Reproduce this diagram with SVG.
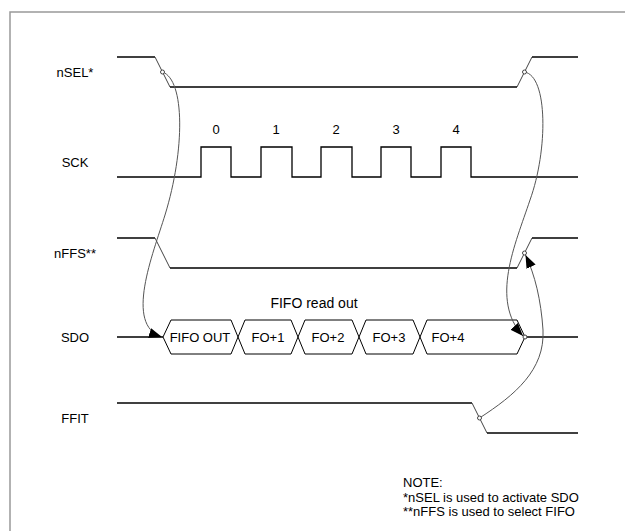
<svg xmlns="http://www.w3.org/2000/svg" width="625" height="531" viewBox="0 0 625 531">
<style>
text{font-family:"Liberation Sans",Arial,sans-serif;font-size:13px;fill:#000}
.lbl{text-anchor:middle}
.big{font-size:14px}
.sig{fill:none;stroke:#000;stroke-width:1.3}
.edge{fill:none;stroke:#444;stroke-width:1}
.bus{fill:none;stroke:#000;stroke-width:1}
.conn{fill:none;stroke:#555;stroke-width:1}
.dot{fill:#fff;stroke:#444;stroke-width:1}
</style>
<defs>
<marker id="ah" viewBox="0 0 13 10" refX="13" refY="5" markerWidth="13" markerHeight="10" markerUnits="userSpaceOnUse" orient="auto">
<path d="M0,0 L13,5 L0,10 Z" fill="#000"/>
</marker>
</defs>
<rect width="625" height="531" fill="#fff"/>
<g id="frame"><path d="M10,531 V12 H625" fill="none" stroke="#999" stroke-width="1.5"/></g>

<g id="nSEL">
<text class="lbl" x="75" y="77">nSEL*</text>
<path class="sig" d="M117,57 H155"/>
<path class="edge" d="M155,57 L170,87 M517,87 L532,57"/>
<path class="sig" d="M170,87 H517 M532,57 H578"/>
</g>

<g id="SCK">
<text class="lbl" x="75" y="167">SCK</text>
<path class="sig" d="M117,177 H201 V147 H231 V177 H261 V147 H292 V177 H321 V147 H352 V177 H381 V147 H411 V177 H441 V147 H471 V177 H578"/>
<text class="lbl" x="216" y="134">0</text>
<text class="lbl" x="276" y="134">1</text>
<text class="lbl" x="336" y="134">2</text>
<text class="lbl" x="396" y="134">3</text>
<text class="lbl" x="456" y="134">4</text>
</g>

<g id="nFFS">
<text class="lbl" x="75" y="258">nFFS**</text>
<path class="sig" d="M117,238 H155"/>
<path class="edge" d="M155,238 L170,268 M517,268 L532,238"/>
<path class="sig" d="M170,268 H517 M532,238 H578"/>
</g>

<g id="SDO">
<text class="lbl" x="75" y="342">SDO</text>
<path class="sig" d="M117,337 H163 M525,337 H578"/>
<path class="bus" d="M163,337 L171,320 H231 L245,354 H291 L305,320 H352 L366,354 H413 L427,320 H517 L525,337 L517,354 H427 L413,320 H366 L352,354 H305 L291,320 H245 L231,354 H171 Z"/>
<text class="lbl big" x="314" y="308">FIFO read out</text>
<text class="lbl" x="200" y="342">FIFO OUT</text>
<text class="lbl" x="268" y="342">FO+1</text>
<text class="lbl" x="328" y="342">FO+2</text>
<text class="lbl" x="389" y="342">FO+3</text>
<text class="lbl" x="448" y="342">FO+4</text>
</g>

<g id="FFIT">
<text class="lbl" x="75" y="423">FFIT</text>
<path class="sig" d="M117,403 H472"/>
<path class="edge" d="M472,403 L487,433"/>
<path class="sig" d="M487,433 H578"/>
</g>

<g id="note">
<text x="403" y="487">NOTE:</text>
<text x="403" y="502">*nSEL is used to activate SDO</text>
<text x="403" y="516">**nFFS is used to select FIFO</text>
</g>

<g id="connectors">
<path class="conn" marker-end="url(#ah)" d="M162.5,72 C185,80 185,150 165,215 C153,254 124,325 162,337"/>
<path class="conn" marker-end="url(#ah)" d="M524.5,72 C548,76 548,150 530,200 C515,245 490,300 523,336"/>
<path class="conn" marker-end="url(#ah)" d="M479.5,418 C515,395 545,370 543,330 C541,300 535,275 525.5,255"/>
<circle class="dot" cx="162.5" cy="72" r="2"/>
<circle class="dot" cx="524.5" cy="72" r="2"/>
<circle class="dot" cx="524.5" cy="253" r="2"/>
<circle class="dot" cx="479.5" cy="418" r="2"/>
<circle class="dot" cx="525" cy="337" r="2"/>
</g>
</svg>
